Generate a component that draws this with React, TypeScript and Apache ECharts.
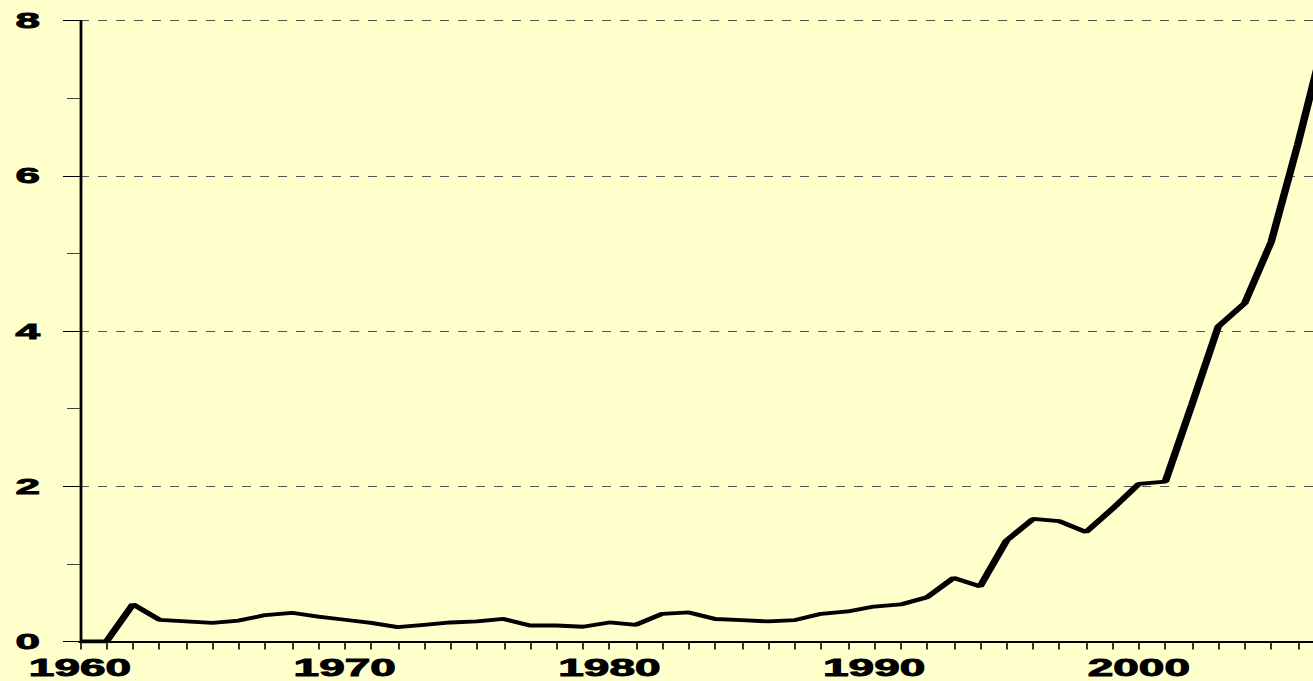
import React, { useEffect, useRef } from "react";
import * as echarts from "echarts";

const years: number[] = [
  1960, 1961, 1962, 1963, 1964, 1965, 1966, 1967, 1968, 1969,
  1970, 1971, 1972, 1973, 1974, 1975, 1976, 1977, 1978, 1979,
  1980, 1981, 1982, 1983, 1984, 1985, 1986, 1987, 1988, 1989,
  1990, 1991, 1992, 1993, 1994, 1995, 1996, 1997, 1998, 1999,
  2000, 2001, 2002, 2003, 2004, 2005, 2006, 2007,
];
const values: number[] = [
  0, 0, 0.48, 0.28, 0.26, 0.24, 0.27, 0.34, 0.37, 0.32,
  0.28, 0.24, 0.185, 0.215, 0.245, 0.26, 0.29, 0.206, 0.206, 0.19,
  0.245, 0.215, 0.357, 0.374, 0.29, 0.275, 0.258, 0.275, 0.357, 0.387,
  0.45, 0.477, 0.57, 0.82, 0.71, 1.3, 1.58, 1.55, 1.41, 1.71,
  2.03, 2.06, 3.05, 4.06, 4.36, 5.15, 6.4, 7.75,
];
const xLabelYears: number[] = [1960, 1970, 1980, 1990, 2000];
const yLabelValues: number[] = [0, 2, 4, 6, 8];

const STRETCH = 2;
const PAGE_W = 1313;
const PAGE_H = 681;
const INNER_W = PAGE_W / STRETCH;
const GRID_LEFT = 40;
const YEAR_PX = 13.225;
const X_MAX = 1960 + (INNER_W - GRID_LEFT) / YEAR_PX;

export default function App() {
  const ref = useRef<HTMLDivElement>(null);
  useEffect(() => {
    document.body.style.margin = "0";
    document.body.style.background = "#FFFFCC";
    if (!ref.current) return;
    const chart = echarts.init(ref.current, undefined, { renderer: "svg" });
    const labelFont = {
      fontFamily: "Liberation Sans",
      fontWeight: "bold" as const,
      color: "#000",
      textBorderColor: "#000",
      textBorderWidth: 0.9,
    };
    chart.setOption({
      animation: false,
      backgroundColor: "#FFFFCC",
      grid: {
        left: GRID_LEFT,
        top: 20.7,
        right: 0,
        bottom: 39.5,
        containLabel: false,
        outerBoundsMode: "none",
      },
      xAxis: {
        type: "value",
        min: 1960,
        max: X_MAX,
        interval: 1,
        axisLine: { show: true, lineStyle: { color: "#000", width: 2 } },
        axisTick: { show: true, length: 8, lineStyle: { color: "#000", width: 0.8 } },
        splitLine: { show: false },
        axisLabel: {
          ...labelFont,
          fontSize: 23,
          margin: 15,
          lineHeight: 23,
          showMaxLabel: false,
          formatter: (v: number) => (xLabelYears.includes(v) ? String(v) : ""),
        },
      },
      yAxis: {
        type: "value",
        min: 0,
        max: 8,
        interval: 2,
        axisLine: { show: true, lineStyle: { color: "#000", width: 1.4 } },
        axisTick: { show: true, length: 8.5, lineStyle: { color: "#000", width: 1 } },
        minorTick: { show: true, splitNumber: 2, length: 6.5, lineStyle: { color: "#444", width: 1 } },
        splitLine: { show: true, lineStyle: { color: "#555", width: 1, type: [4.5, 4.5] } },
        axisLabel: {
          ...labelFont,
          fontSize: 22,
          margin: 20,
          formatter: (v: number) => (yLabelValues.includes(v) ? String(v) : ""),
        },
      },
      series: [
        {
          type: "line",
          data: years.map((y, i) => [y, values[i]]),
          symbol: "none",
          silent: true,
          lineStyle: { color: "#000", width: 3.8 },
        },
      ],
    });
    return () => chart.dispose();
  }, []);
  return (
    <div style={{ width: PAGE_W, height: PAGE_H, overflow: "hidden", background: "#FFFFCC" }}>
      <div
        ref={ref}
        style={{
          width: INNER_W,
          height: PAGE_H,
          transform: `scaleX(${STRETCH})`,
          transformOrigin: "0 0",
        }}
      />
    </div>
  );
}
